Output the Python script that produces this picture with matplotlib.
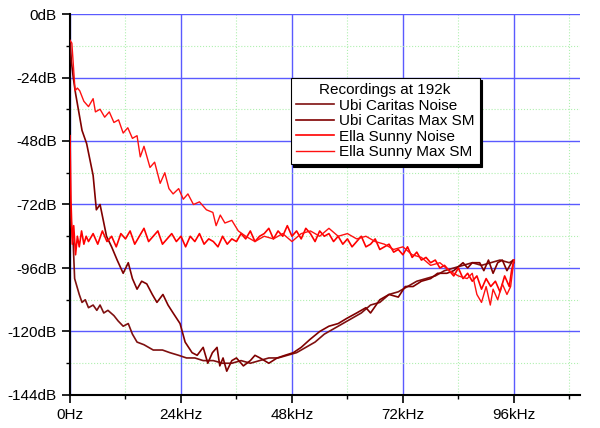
import matplotlib
matplotlib.use("Agg")
import matplotlib.pyplot as plt
from matplotlib.ticker import MultipleLocator, FuncFormatter

plt.rcParams['font.family'] = ['Liberation Sans', 'DejaVu Sans']

# Ubi Caritas Noise
ubi_noise_x = [0, 0.3, 0.7, 1.0, 1.5, 2.0, 2.6, 3.3, 4.0, 5.0, 5.8, 6.5, 7.3, 8.2, 9.5, 10.4, 11.5, 12.6, 13.5, 14.5, 16.0, 18.0, 20.0, 21.6, 23.5, 25.2, 27.0, 28.8, 31.0, 33.0, 35.0, 37.0, 39.0, 41.0, 43.0, 45.0, 47.0, 49.0, 51.0, 53.0, 55.0, 57.0, 59.0, 61.0, 63.0, 65.0, 67.0, 69.0, 71.0, 73.0, 75.0, 77.0, 79.0, 81.0, 83.0, 85.0, 87.0, 89.0, 91.0, 93.0, 95.0, 96.0]
ubi_noise_y = [-70, -80, -87, -100, -103, -106, -109, -108, -111, -110, -112, -110, -113, -112, -114, -116, -118, -117, -121, -124, -125, -127, -127, -128, -129, -130, -130, -131, -131, -132, -132, -131, -132, -131, -130, -130, -129, -128, -126, -124, -121, -119, -117, -115, -113, -110, -109, -106, -105, -103, -101, -100, -99, -97, -96, -95, -94, -95, -94, -93, -94, -93]

# Ubi Caritas Max SM
ubi_max_x = [0, 0.3, 0.7, 1.2, 1.8, 2.6, 3.6, 4.3, 5.0, 5.7, 6.5, 7.2, 7.9, 9.0, 10.2, 11.5, 12.6, 13.5, 14.5, 15.5, 16.6, 17.8, 18.8, 20.1, 21.2, 22.3, 23.8, 24.9, 26.4, 27.5, 28.8, 29.8, 30.8, 31.8, 32.4, 33.1, 33.9, 35.0, 36.0, 37.5, 39.0, 40.0, 41.1, 43.0, 44.8, 46.5, 48.3, 50.0, 51.9, 54.0, 56.0, 58.0, 59.9, 62.0, 64.0, 65.0, 67.0, 69.0, 71.0, 72.5, 74.2, 76.0, 78.0, 79.5, 81.5, 83.0, 85.0, 86.0, 87.0, 88.6, 89.5, 90.5, 91.5, 92.5, 93.5, 94.5, 95.8, 96.0]
ubi_max_y = [-10, -18, -24, -30, -36, -44, -49, -55, -61, -74, -72, -78, -84, -88, -93, -98, -94, -100, -104, -101, -102, -106, -109, -106, -110, -113, -117, -124, -128, -129, -126, -132, -128, -126, -133, -130, -135, -131, -130, -133, -131, -129, -130, -132, -130, -129, -128, -126, -123, -120, -118, -117, -115, -113, -111, -113, -108, -106, -107, -103, -103, -101, -100, -98, -98, -97, -94, -96, -94, -94, -97, -93, -98, -94, -93, -97, -93, -94]

# Ella Sunny Noise
ella_noise_x = [0, 0.2, 0.5, 0.8, 1.2, 1.6, 2.0, 2.5, 3.0, 3.5, 4.0, 5.0, 6.0, 7.0, 8.0, 9.0, 10.0, 11.0, 12.0, 13.0, 14.0, 15.0, 16.0, 17.0, 18.0, 19.0, 20.0, 21.0, 22.0, 23.0, 24.0, 25.0, 26.0, 27.0, 28.0, 29.0, 30.0, 31.0, 32.0, 33.0, 34.0, 35.0, 36.0, 37.0, 38.0, 39.0, 40.0, 41.0, 42.0, 43.0, 44.0, 45.0, 46.0, 47.0, 48.0, 49.0, 50.0, 51.0, 52.0, 53.0, 54.0, 55.0, 56.0, 57.0, 58.0, 59.0, 60.0, 61.0, 62.0, 63.0, 64.0, 65.0, 66.0, 67.0, 68.0, 69.0, 70.0, 71.0, 72.0, 73.0, 74.0, 75.0, 76.0, 77.0, 78.0, 79.0, 80.0, 81.0, 82.0, 83.0, 84.0, 85.0, 86.0, 87.0, 88.0, 89.0, 90.0, 91.0, 92.0, 93.0, 94.0, 95.0, 95.5, 96.0]
ella_noise_y = [-46, -70, -87, -80, -91, -84, -88, -82, -87, -84, -86, -83, -87, -82, -86, -84, -88, -83, -85, -82, -87, -84, -81, -86, -84, -82, -87, -85, -83, -86, -84, -88, -84, -86, -83, -87, -85, -86, -88, -84, -87, -85, -86, -83, -85, -82, -86, -84, -83, -81, -85, -82, -84, -80, -84, -82, -85, -81, -83, -86, -82, -84, -83, -86, -84, -87, -85, -88, -86, -84, -88, -87, -85, -89, -88, -87, -90, -89, -91, -88, -92, -90, -93, -92, -94, -93, -96, -95, -97, -99, -96, -100, -98, -101, -99, -104, -100, -103, -101, -105, -99, -103, -97, -93]

# Ella Sunny Max SM
ella_max_x = [0, 0.4, 1.1, 1.6, 2.1, 3.0, 4.0, 5.0, 5.5, 6.5, 7.5, 8.5, 9.5, 10.5, 11.5, 12.5, 13.5, 14.5, 15.2, 16.0, 17.3, 18.3, 19.5, 20.5, 21.4, 22.3, 23.5, 24.5, 25.5, 26.7, 28.0, 29.5, 30.9, 31.6, 32.5, 33.5, 35.0, 36.4, 38.0, 40.0, 42.0, 44.0, 46.0, 48.0, 50.0, 52.0, 54.0, 56.0, 58.0, 60.0, 62.0, 64.0, 66.0, 68.0, 70.0, 72.0, 74.0, 76.0, 78.0, 80.0, 82.0, 84.0, 85.9, 87.0, 88.0, 89.0, 90.0, 90.9, 91.5, 92.5, 93.5, 94.5, 95.3, 96.0]
ella_max_y = [-10, -11, -29, -28, -29, -33, -35, -32, -37, -36, -39, -37, -41, -40, -45, -43, -47, -46, -54, -50, -58, -56, -64, -60, -66, -68, -66, -70, -68, -72, -71, -74, -75, -80, -76, -79, -78, -82, -84, -86, -84, -85, -83, -86, -83, -82, -84, -81, -84, -83, -85, -84, -86, -87, -89, -88, -91, -92, -95, -94, -97, -99, -100, -98, -106, -109, -103, -110, -104, -108, -102, -106, -103, -93]

fig = plt.figure(figsize=(6.0, 4.28), dpi=100)
ax = fig.add_axes([70/600, 1-395/428, 510/600, 381/428])

ax.plot(ubi_noise_x, ubi_noise_y, color='#7f1010', lw=1.2, label='Ubi Caritas Noise', zorder=3)
ax.plot(ubi_max_x, ubi_max_y, color='#800000', lw=1.2, label='Ubi Caritas Max SM', zorder=3)
ax.plot(ella_noise_x, ella_noise_y, color='#ff0000', lw=1.2, label='Ella Sunny Noise', zorder=4)
ax.plot(ella_max_x, ella_max_y, color='#ff1010', lw=1.0, label='Ella Sunny Max SM', zorder=4)

ax.set_xlim(0, 110.3)
ax.set_ylim(-144, 0)
ax.xaxis.set_major_locator(MultipleLocator(24))
ax.xaxis.set_minor_locator(MultipleLocator(12))
ax.yaxis.set_major_locator(MultipleLocator(24))
ax.yaxis.set_minor_locator(MultipleLocator(12))
ax.xaxis.set_major_formatter(FuncFormatter(lambda v, p: '0Hz' if v == 0 else f'{int(v)}kHz'))
ax.yaxis.set_major_formatter(FuncFormatter(lambda v, p: f'{int(v)}dB'))
ax.grid(which='major', color='#5a5aff', lw=1.0, zorder=1)
ax.grid(which='minor', color='#b0f0b0', lw=0.8, ls=':', zorder=1)
ax.set_axisbelow(True)
for s in ['top', 'right']:
    ax.spines[s].set_visible(False)
ax.spines['left'].set_linewidth(1.5)
ax.spines['bottom'].set_linewidth(1.5)
ax.tick_params(which='major', direction='out', length=6, width=1.2, labelsize=11)
ax.tick_params(which='minor', direction='out', length=3, width=1.0)

leg = ax.legend(title='Recordings at 192k', loc='upper left',
                bbox_to_anchor=((283-70)/510, (395-70)/381),
                fancybox=False, framealpha=1, edgecolor='black',
                shadow={'color': 'black', 'alpha': 1}, fontsize=11, title_fontsize=11,
                handlelength=2.5, borderpad=0.35, labelspacing=0.1, handletextpad=0.3)
leg.get_frame().set_linewidth(0.8)

fig.savefig('out.png', dpi=100)
